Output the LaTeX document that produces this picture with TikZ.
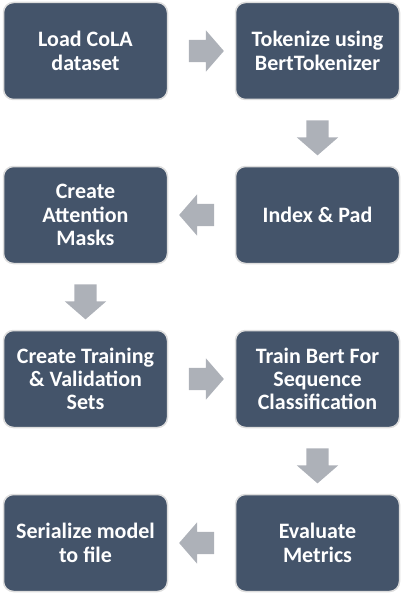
\documentclass[tikz,border=0pt]{standalone}
\usepackage{fontspec}
\setmainfont{Carlito}
\usetikzlibrary{positioning,calc,shapes.arrows}

\definecolor{slate}{HTML}{44546A}
\definecolor{arrowgray}{HTML}{ADB1B8}
\definecolor{rimgray}{HTML}{DDDDDD}

\tikzset{
  stepbox/.style={rectangle, rounded corners=10pt, fill=slate, draw=rimgray, line width=1.5pt,
    minimum width=164pt, minimum height=97pt, outer sep=0pt, align=center, text=white,
    font=\fontsize{22pt}{23.3pt}\selectfont\bfseries},
  flowarrow/.style={single arrow, fill=arrowgray, draw=none, minimum height=35pt,
    inner xsep=0pt, inner ysep=11pt, single arrow head extend=9.5pt, single arrow tip angle=98},
}

\begin{document}
\begin{tikzpicture}[node distance=67pt and 68pt]

\useasboundingbox (0,0) rectangle (406pt,-599pt);

\node[stepbox] (load) at (85.5pt,-51pt) {Load CoLA\\dataset};
\node[stepbox, right=of load] (tok) {Tokenize using\\BertTokenizer};
\node[stepbox, below=of tok] (pad) {Index \& Pad};
\node[stepbox, left=of pad] (mask) {Create\\Attention\\Masks};
\node[stepbox, below=of mask] (sets) {Create Training\\\& Validation\\Sets};
\node[stepbox, right=of sets] (train) {Train Bert For\\Sequence\\Classification};
\node[stepbox, below=of train] (eval) {Evaluate\\Metrics};
\node[stepbox, left=of eval] (save) {Serialize model\\to file};

\node[flowarrow] at ($(load)!0.5!(tok)$) {};
\node[flowarrow, rotate=-90] at ($(tok)!0.5!(pad)$) {};
\node[flowarrow, rotate=180] at ($(pad)!0.5!(mask)$) {};
\node[flowarrow, rotate=-90] at ($(mask)!0.5!(sets)$) {};
\node[flowarrow] at ($(sets)!0.5!(train)$) {};
\node[flowarrow, rotate=-90] at ($(train)!0.5!(eval)$) {};
\node[flowarrow, rotate=180] at ($(eval)!0.5!(save)$) {};

\end{tikzpicture}
\end{document}
